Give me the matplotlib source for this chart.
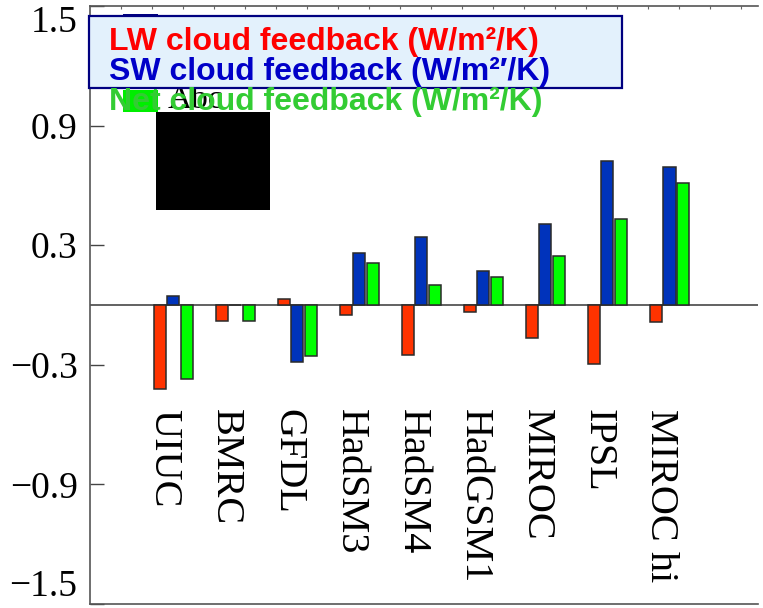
import matplotlib
matplotlib.use('Agg')

import matplotlib.pyplot as plt
import numpy as np
from matplotlib.patches import Rectangle

# Cloud feedback per model (W/m2/K)
models = ['UIUC', 'BMRC', 'GFDL', 'HadSM3', 'HadSM4', 'HadGSM1', 'MIROC', 'IPSL', 'MIROC hi']
lw_fb = [-0.42, -0.08, 0.03, -0.05, -0.25, -0.035, -0.165, -0.295, -0.085]
sw_fb = [0.045, 0.0, -0.285, 0.26, 0.34, 0.17, 0.405, 0.72, 0.69]
net_fb = [-0.37, -0.08, -0.255, 0.21, 0.10, 0.14, 0.245, 0.43, 0.61]
yticks = [-1.5, -0.9, -0.3, 0.3, 0.9, 1.5]
legend_lines = ['LW cloud feedback (W/m²/K)',
                'SW cloud feedback (W/m²′/K)',
                'Net cloud feedback (W/m²/K)']
legend_colors = ['#ff0000', '#0000c8', '#33cc33']

W, H = 763, 608
serif = 'Liberation Serif'
sans = 'Liberation Sans'


def fx(px):
    return px / W


def fy(py):
    return 1 - py / H


fig = plt.figure(figsize=(W / 100, H / 100), dpi=100)
ax = fig.add_axes([fx(90), fy(604), (758 - 90) / W, (604 - 6) / H])

x = np.arange(1, len(models) + 1)
bw = 0.2
edge = '#2a2a2a'
ax.axhline(0, color='#555555', lw=1.3, zorder=2)
ax.bar(x - 0.215, lw_fb, bw, color='#ff3300', edgecolor=edge, linewidth=1.1, zorder=3)
ax.bar(x, sw_fb, bw, color='#0033bb', edgecolor=edge, linewidth=1.1, zorder=3)
ax.bar(x + 0.222, net_fb, bw, color='#00ff00', edgecolor=edge, linewidth=1.1, zorder=3)

ax.set_xlim(-0.34, 10.43)
ax.set_ylim(-1.5, 1.5)

for side in ['left', 'top', 'bottom']:
    ax.spines[side].set_color('#555555')
    ax.spines[side].set_linewidth(1.2)
ax.spines['right'].set_visible(False)

# y axis: serif labels, ticks pointing in
ax.set_yticks(yticks)
ax.set_yticklabels([f'{v:.1f}'.replace('-', '\u2212') for v in yticks],
                   fontfamily=serif)
ax.tick_params(axis='y', direction='in', length=10, width=1, color='#444444',
               pad=9, labelsize=27, right=False)
ylabels = ax.get_yticklabels()
ylabels[0].set_va('bottom')
ylabels[-1].set_va('top')

# small ticks along the top edge only
ax.set_xticks(np.arange(0.156, 10.43, 0.5))
ax.tick_params(axis='x', direction='in', length=2, width=0.8, color='#666666',
               top=True, bottom=False, labelbottom=False)

# model names written downward under the zero line
for xi, name in zip(x, models):
    ax.text(xi - 0.15, -0.52, name, rotation=270, ha='center', va='top',
            fontsize=29, fontfamily=serif, zorder=4)

# leftover legend bits peeking out under the text box
fig.add_artist(Rectangle((fx(123), fy(112)), (158 - 123) / W, 22 / H,
                         transform=fig.transFigure, facecolor='#00ee00',
                         edgecolor='none', zorder=5))
fig.add_artist(Rectangle((fx(123), fy(16)), (158 - 123) / W, 2 / H,
                         transform=fig.transFigure, facecolor='#000080',
                         edgecolor='none', zorder=5))
fig.text(fx(168), fy(108), 'Abc', fontsize=24, fontfamily=serif,
         color='black', zorder=5)
fig.add_artist(Rectangle((fx(156), fy(210)), (270 - 156) / W, (210 - 112) / H,
                         transform=fig.transFigure, facecolor='black',
                         edgecolor='none', zorder=5))

# legend box with coloured text
fig.add_artist(Rectangle((fx(89), fy(88)), (622 - 89) / W, (88 - 16) / H,
                         transform=fig.transFigure, facecolor='#e3f1fc',
                         edgecolor='#000080', linewidth=1.6, zorder=6))
for i, (txt, col) in enumerate(zip(legend_lines, legend_colors)):
    fig.text(fx(109), fy(50 + 30 * i), txt, color=col, fontsize=23,
             fontweight='bold', fontfamily=sans, va='baseline', zorder=7)

fig.savefig('out.png', dpi=100)
plt.close(fig)
